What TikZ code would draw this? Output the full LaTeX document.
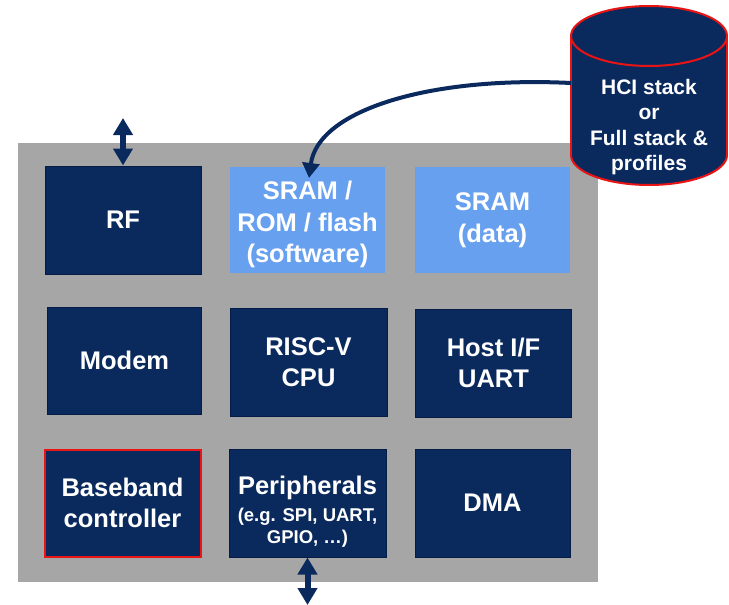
\documentclass[tikz,border=0pt]{standalone}
\usepackage{fontspec}
\setmainfont{Liberation Sans}
\usetikzlibrary{arrows.meta}
\definecolor{navy}{RGB}{10,42,94}
\definecolor{navyedge}{RGB}{4,28,70}
\definecolor{lightblue}{RGB}{104,160,240}
\definecolor{panelgray}{RGB}{166,166,166}
\definecolor{edgered}{RGB}{235,20,20}
\tikzset{
  darkbox/.style={fill=navy, draw=navyedge, line width=1pt, text=white, align=center,
    font=\fontsize{25.5}{31.5}\selectfont\bfseries, inner sep=0pt},
  lightbox/.style={fill=lightblue, text=white, align=center,
    font=\fontsize{25.5}{31.5}\selectfont\bfseries, inner sep=0pt},
  iodbl/.style={draw=navy, line width=6pt, {Triangle[length=17pt,width=19pt]}-{Triangle[length=17pt,width=19pt]}},
  loadarrow/.style={draw=navy, line width=4pt, -{Triangle[length=15pt,width=17pt]}},
  cylline/.style={draw=edgered, line width=2pt},
}
\newcommand{\smalltxt}{\fontsize{18.5}{21.5}\selectfont}
\begin{document}
\begin{tikzpicture}[x=1pt,y=-1pt]
\useasboundingbox (0,0) rectangle (729,605);
\fill[white] (0,0) rectangle (729,605);
% panel
\fill[panelgray] (18,143) rectangle (598,582);
% row 1
\node[darkbox, minimum width=156pt, minimum height=108pt] (rf) at (123,220) {RF};
\node[lightbox, minimum width=155pt, minimum height=106pt, text depth=0pt] (sw) at (307.5,220) {\strut SRAM /\\ROM / flash\\(software)};
\node[lightbox, minimum width=155pt, minimum height=106pt] (data) at (492.5,220) {SRAM\\(data)};
% row 2
\node[darkbox, minimum width=154pt, minimum height=107pt] (modem) at (124.5,360.5) {Modem};
\node[darkbox, minimum width=157pt, minimum height=108pt] (cpu) at (308.5,362) {RISC-V\\CPU};
\node[darkbox, minimum width=156pt, minimum height=108pt] (host) at (493.5,363) {Host I/F\\UART};
% row 3
\node[darkbox, draw=edgered, line width=2pt, minimum width=156pt, minimum height=107pt] (bb) at (122.5,503) {Baseband\\controller};
\node[darkbox, minimum width=157pt, minimum height=108pt] (periph) at (307.5,503)
  {\rule{0pt}{35pt}Peripherals\\[-4pt]{\smalltxt (e.g. SPI, UART,}\\[-10pt]{\smalltxt GPIO, …)}};
\node[darkbox, minimum width=155pt, minimum height=108pt] (dma) at (492.5,503) {DMA};
% cylinder
\fill[navy] (571,36) rectangle (727,155);
\fill[navy] (649,155) ellipse [x radius=78, y radius=30];
\draw[cylline] (571,36) -- (571,155);
\draw[cylline] (727,36) -- (727,155);
\begin{scope}
  \clip (560,155) rectangle (740,200);
  \draw[cylline] (649,155) ellipse [x radius=78, y radius=30];
\end{scope}
\draw[cylline, fill=navy] (649,36) ellipse [x radius=78, y radius=30];
\node[text=white, align=center, font=\fontsize{21}{25.5}\selectfont\bfseries, inner sep=0pt] (stack) at (649,127)
  {HCI stack\\or\\Full stack \&\\profiles};
\coordinate (stackout) at (571,83);
\coordinate (swin) at (309,178);
% connectors
\coordinate (rfio) at (123,118);
\coordinate (periphio) at (307.5,605);
\draw[iodbl] (rfio) -- (rf.north);
\draw[iodbl] (periph.south) -- (periphio);
\draw[loadarrow] (stackout) .. controls (430,76) and (318,110) .. (swin);
\end{tikzpicture}
\end{document}
